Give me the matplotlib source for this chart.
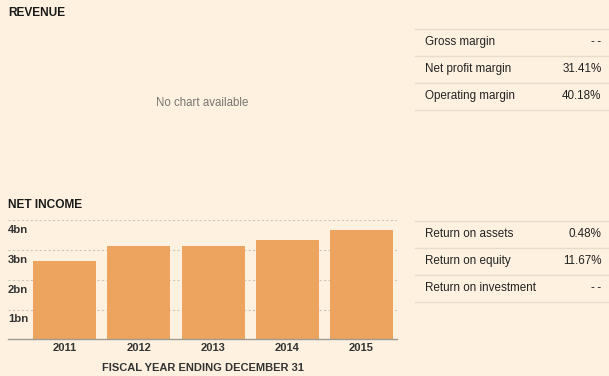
import matplotlib
matplotlib.use("Agg")
from matplotlib import pyplot as plt
from matplotlib.lines import Line2D

# Data
years = ['2011', '2012', '2013', '2014', '2015']
net_income = [2.63, 3.14, 3.13, 3.34, 3.67]  # bn
y_ticks = [1, 2, 3, 4]
y_labels = ['1bn', '2bn', '3bn', '4bn']

margin_names = ['Gross margin', 'Net profit margin', 'Operating margin']
margin_values = ['-\u2009-', '31.41%', '40.18%']
return_names = ['Return on assets', 'Return on equity', 'Return on investment']
return_values = ['0.48%', '11.67%', '-\u2009-']

# Style
BG = '#fff1e0'
BAR = '#eda45e'
GRID = '#cec5b9'
RULE = '#e9dccb'
DARK = '#333333'
W, H = 609, 376
plt.rcParams['font.family'] = ['Liberation Sans', 'DejaVu Sans']

fig = plt.figure(figsize=(W / 100, H / 100), dpi=100, facecolor=BG)


def px(x, y):
    """pixel coords (from top-left) to figure fraction"""
    return x / W, 1 - y / H


# Section titles
fig.text(*px(8, 12.5), 'REVENUE', fontsize=8.6, fontweight='bold', color='#1a1a1a', va='center')
fig.text(*px(8, 205), 'NET INCOME', fontsize=8.6, fontweight='bold', color='#1a1a1a', va='center')
fig.text(*px(202, 103), 'No chart available', fontsize=8.3, color='#777470', ha='center', va='center')


# Right-hand tables
def draw_table(names, values, top):
    step = 27
    for i in range(len(names) + 1):
        y = top + i * step
        fig.add_artist(Line2D([415 / W, 1], [1 - y / H] * 2, color=RULE, lw=1))
    for i, (n, v) in enumerate(zip(names, values)):
        yc = top + i * step + step / 2
        fig.text(*px(425, yc), n, fontsize=8.4, color='#222222', va='center')
        fig.text(*px(601.5, yc), v, fontsize=8.4, color='#222222', va='center', ha='right')


draw_table(margin_names, margin_values, 28.5)
draw_table(return_names, return_values, 220.5)

# Net income bar chart
left, right, top, bottom = 8, 397, 220.3, 339.3
ax = fig.add_axes([left / W, 1 - bottom / H, (right - left) / W, (bottom - top) / H])
ax.set_facecolor(BG)
x = range(len(years))
ax.bar(x, net_income, width=0.85, color=BAR, zorder=2)
ax.set_xlim(-0.765, 4.48)
ax.set_ylim(0, 4)

for t in y_ticks:
    ax.axhline(t, color=GRID, lw=0.8, ls=(0, (2, 2)), zorder=1)
for t, lab in zip(y_ticks, y_labels):
    ax.annotate(lab, (0, t), xycoords=('axes fraction', 'data'), xytext=(0, -7),
                textcoords='offset points', fontsize=8.2, fontweight='bold',
                color=DARK, va='center', ha='left', zorder=3)

for s in ['top', 'right', 'left']:
    ax.spines[s].set_visible(False)
ax.spines['bottom'].set_color('#a09a94')
ax.spines['bottom'].set_linewidth(1)
ax.set_yticks([])
ax.set_xticks(list(x))
ax.set_xticklabels(years, fontsize=8, fontweight='bold', color=DARK)
ax.tick_params(axis='x', length=0, pad=3)
ax.set_xlabel('FISCAL YEAR ENDING DECEMBER 31', fontsize=8, fontweight='bold',
              color=DARK, labelpad=2)
ax.xaxis.set_label_coords((202.7 - left) / (right - left), -(363.3 - bottom) / (bottom - top))

fig.savefig('out.png', dpi=100, facecolor=BG)
plt.close(fig)
